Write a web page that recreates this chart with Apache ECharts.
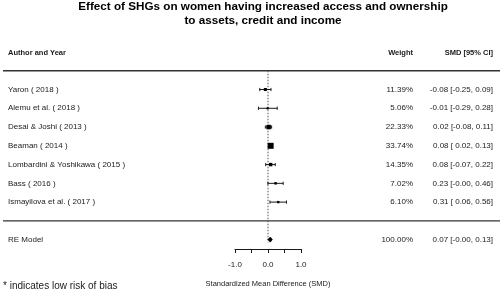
<!DOCTYPE html>
<html>
<head>
<meta charset="utf-8">
<script src="https://cdn.jsdelivr.net/npm/echarts@6/dist/echarts.min.js"></script>
<style>
  html, body { margin: 0; padding: 0; background: #fff; }
  #chart { width: 502px; height: 293px; }
</style>
</head>
<body>
<div id="chart"></div>
<script>
// study level results, top to bottom
const studies = ['Yaron ( 2018 )', 'Alemu et al. ( 2018 )', 'Desai & Joshi ( 2013 )', 'Beaman ( 2014 )',
  'Lombardini & Yoshikawa ( 2015 )', 'Bass ( 2016 )', 'Ismayilova et al. ( 2017 )']
const estimates = [-0.08, -0.01, 0.02, 0.08, 0.08, 0.23, 0.31]
const ciLower = [-0.25, -0.29, -0.08, 0.02, -0.07, -0.004, 0.06]
const ciUpper = [0.09, 0.28, 0.11, 0.13, 0.22, 0.46, 0.56]
const weights = [11.39, 5.06, 22.33, 33.74, 14.35, 7.02, 6.10]

// pooled random effects result
const pooledLabel = ['RE Model']
const pooledEst = [0.07]
const pooledCi = [-0.004, 0.13]
const pooledWeight = [100.00]

const xTicks = [-1.0, -0.5, 0.0, 0.5, 1.0]
const xTickLabels = ['-1.0', '0.0', '1.0']

const FONT = '"Liberation Sans", Arial, sans-serif'
const INK = '#1a1a1a'

const fmt = (v) => v.toFixed(2)
const fmtLow = (v) => (v < 0 ? '' : ' ') + v.toFixed(2)
const ciText = (e, lb, ub) => `${fmt(e)} [${fmtLow(lb)}, ${fmt(ub)}]`

// rows: 0 header, 1 header rule, 2..8 studies, 9 rule, 10 pooled
const studyData = studies.map((s, i) => [i + 2, estimates[i], ciLower[i], ciUpper[i], weights[i], i])
const minW = Math.min(...weights)
const maxW = Math.max(...weights)
const boxSize = (w) => 2.2 + (w - minW) / (maxW - minW) * 3.8

const chart = echarts.init(document.getElementById('chart'), null, { renderer: 'canvas' })

const textStyle = (text, x, y, align, size, weight) => ({
  type: 'text',
  x: x,
  y: y,
  style: {
    text: text,
    fill: INK,
    font: `${weight || 'normal'} ${size}px ${FONT}`,
    textAlign: align,
    textVerticalAlign: 'middle'
  }
})

chart.setOption({
  animation: false,
  backgroundColor: '#fff',
  grid: { left: 235, right: 201, top: 52, bottom: 41 },
  xAxis: {
    type: 'value',
    position: 'bottom',
    min: xTicks[0],
    max: xTicks[xTicks.length - 1],
    interval: 0.5,
    splitLine: { show: false },
    axisLine: { show: true, onZero: false, lineStyle: { color: INK, width: 1 } },
    axisTick: { show: true, length: 4, inside: false, lineStyle: { color: INK } },
    axisLabel: {
      show: true,
      showMinLabel: true,
      showMaxLabel: true,
      margin: 12,
      fontSize: 8,
      fontFamily: FONT,
      color: INK,
      formatter: (v) => {
        const lbl = v.toFixed(1)
        return xTickLabels.indexOf(lbl) >= 0 ? lbl : ''
      }
    },
    name: 'Standardized Mean Difference (SMD)',
    nameLocation: 'middle',
    nameGap: 31,
    nameTextStyle: { fontSize: 7.5, fontFamily: FONT, color: INK }
  },
  yAxis: { type: 'value', inverse: true, min: 0, max: 10.5, show: false },
  graphic: [
    {
      type: 'text',
      x: 263,
      y: 0,
      style: {
        text: 'Effect of SHGs on women having increased access and ownership\nto assets, credit and income',
        fill: '#000',
        font: `bold 11.7px ${FONT}`,
        textAlign: 'center',
        lineHeight: 14
      }
    },
    textStyle('Author and Year', 8, 53, 'left', 7.5, 'bold'),
    textStyle('Weight', 413, 53, 'right', 7.5, 'bold'),
    textStyle('SMD [95% CI]', 493, 53, 'right', 7.5, 'bold'),
    textStyle('* indicates low risk of bias', 3, 286, 'left', 10, 'normal')
  ],
  series: [
    {
      // horizontal rules
      type: 'custom',
      data: [[1], [9]],
      renderItem: (params, api) => {
        const y = api.coord([0, api.value(0)])[1]
        return {
          type: 'line',
          shape: { x1: 3, y1: y, x2: 500, y2: y },
          style: { stroke: '#333', lineWidth: 1.4 }
        }
      }
    },
    {
      // dotted reference line at zero
      type: 'custom',
      data: [[0, 1, 10.15]],
      renderItem: (params, api) => {
        const top = api.coord([api.value(0), api.value(1)])
        const bot = api.coord([api.value(0), api.value(2)])
        return {
          type: 'line',
          shape: { x1: top[0], y1: top[1], x2: bot[0], y2: bot[1] },
          style: { stroke: '#555', lineWidth: 1, lineDash: [1.5, 1.5] }
        }
      }
    },
    {
      // study rows
      type: 'custom',
      data: studyData,
      renderItem: (params, api) => {
        const row = api.value(0)
        const est = api.value(1)
        const lb = api.value(2)
        const ub = api.value(3)
        const w = api.value(4)
        const i = api.value(5)
        const pE = api.coord([est, row])
        const pL = api.coord([lb, row])
        const pU = api.coord([ub, row])
        const y = pE[1]
        const s = boxSize(w)
        const stroke = { stroke: INK, lineWidth: 1 }
        return {
          type: 'group',
          children: [
            { type: 'line', shape: { x1: pL[0], y1: y, x2: pU[0], y2: y }, style: stroke },
            { type: 'line', shape: { x1: pL[0], y1: y - 1.6, x2: pL[0], y2: y + 1.6 }, style: stroke },
            { type: 'line', shape: { x1: pU[0], y1: y - 1.6, x2: pU[0], y2: y + 1.6 }, style: stroke },
            { type: 'rect', shape: { x: pE[0] - s / 2, y: y - s / 2, width: s, height: s }, style: { fill: '#000' } },
            textStyle(studies[i], 8, y, 'left', 8),
            textStyle(w.toFixed(2) + '%', 413, y, 'right', 8),
            textStyle(ciText(est, lb, ub), 493, y, 'right', 8)
          ]
        }
      }
    },
    {
      // pooled estimate diamond
      type: 'custom',
      data: [[10, pooledEst[0], pooledCi[0], pooledCi[1], pooledWeight[0]]],
      renderItem: (params, api) => {
        const row = api.value(0)
        const est = api.value(1)
        const lb = api.value(2)
        const ub = api.value(3)
        const pE = api.coord([est, row])
        const pL = api.coord([lb, row])
        const pU = api.coord([ub, row])
        const y = pE[1]
        return {
          type: 'group',
          children: [
            {
              type: 'polygon',
              shape: { points: [[pL[0], y], [pE[0], y - 2.5], [pU[0], y], [pE[0], y + 2.5]] },
              style: { fill: '#000', stroke: '#000', lineWidth: 0.8 }
            },
            textStyle(pooledLabel[0], 8, y, 'left', 8),
            textStyle(api.value(4).toFixed(2) + '%', 413, y, 'right', 8),
            textStyle(ciText(est, lb, ub), 493, y, 'right', 8)
          ]
        }
      }
    }
  ]
})
</script>
</body>
</html>
